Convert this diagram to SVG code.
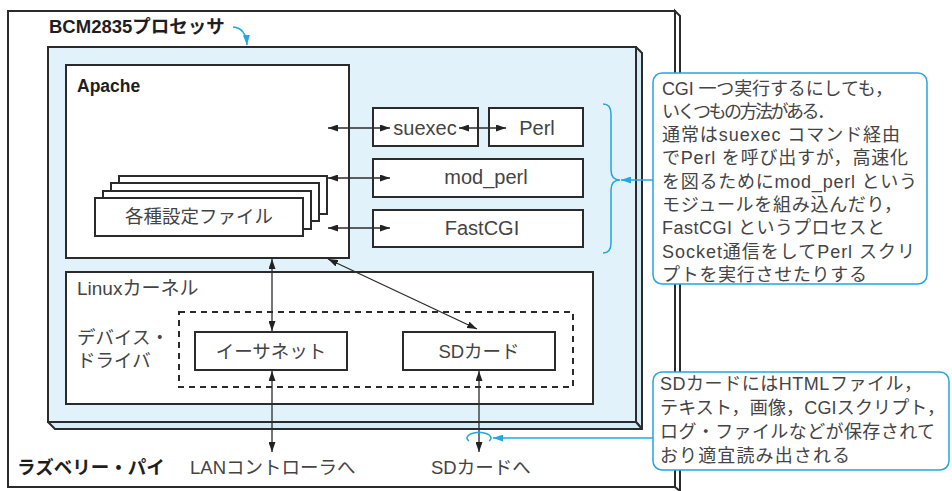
<svg xmlns="http://www.w3.org/2000/svg" width="952" height="491" viewBox="0 0 952 491">
<defs>
<style>
.box{fill:#fff;stroke:#2b2b2b;stroke-width:2}
.t{font-family:"Liberation Sans","Noto Sans CJK JP",sans-serif;fill:#444}
.jp{font-size:18.5px}
.lat{font-size:20px}
.cl{font-size:18px}
.b{font-weight:bold;fill:#1e1e1e}
.con{stroke:#2b2b2b;stroke-width:1.3;fill:none}
.blue{stroke:#22a7e0;stroke-width:1.5;fill:none}
</style>
<marker id="ah" viewBox="0 0 10 10" refX="10" refY="5" markerWidth="10" markerHeight="7" orient="auto-start-reverse" markerUnits="userSpaceOnUse" preserveAspectRatio="none"><path d="M0,0 L10,5 L0,10 z" fill="#222"/></marker>
<marker id="bh" viewBox="0 0 10 10" refX="10" refY="5" markerWidth="10" markerHeight="7" orient="auto" markerUnits="userSpaceOnUse" preserveAspectRatio="none"><path d="M0,0 L10,5 L0,10 z" fill="#22a7e0"/></marker>
</defs>
<rect width="952" height="491" fill="#fff"/>

<g id="board">
<polygon points="675,11 680,16 680,491 675,487" fill="#fff" stroke="#2b2b2b" stroke-width="2"/>
<rect x="8" y="11" width="667" height="476" fill="#fff" stroke="#2b2b2b" stroke-width="2"/>
<text class="t jp b" x="17" y="474">ラズベリー・パイ</text>
</g>

<g id="processor">
<polygon points="636,47 642,53 642,429 636,422" fill="#d3ecf7" stroke="#2b2b2b" stroke-width="2" stroke-linejoin="round"/>
<polygon points="48,422 636,422 642,429 55,429" fill="#d3ecf7" stroke="#2b2b2b" stroke-width="2" stroke-linejoin="round"/>
<rect x="48" y="47" width="588" height="375" fill="#e1f2fa" stroke="#2b2b2b" stroke-width="2"/>
<text class="t b" x="49" y="33" font-size="18.5">BCM2835プロセッサ</text>
</g>

<g id="apache">
<rect class="box" x="66" y="65" width="283" height="193"/>
<text class="t b" x="77" y="92" font-size="17.5">Apache</text>
</g>

<g id="config-files">
<rect class="box" x="119" y="176" width="208" height="38" stroke-width="1.5"/>
<rect class="box" x="111" y="183" width="208" height="38" stroke-width="1.5"/>
<rect class="box" x="103" y="191" width="208" height="38" stroke-width="1.5"/>
<rect class="box" x="95" y="198" width="208" height="38" stroke-width="1.5"/>
<text class="t jp" x="199" y="223" text-anchor="middle">各種設定ファイル</text>
</g>

<g id="suexec">
<rect class="box" x="373" y="108" width="105" height="38"/>
<text class="t lat" x="425" y="135" text-anchor="middle">suexec</text>
</g>
<g id="perl">
<rect class="box" x="489" y="108" width="94" height="38"/>
<text class="t lat" x="537" y="135" text-anchor="middle">Perl</text>
</g>
<g id="mod_perl">
<rect class="box" x="373" y="159" width="210" height="38"/>
<text class="t lat" x="486" y="184" text-anchor="middle">mod_perl</text>
</g>
<g id="fastcgi">
<rect class="box" x="373" y="210" width="210" height="37"/>
<text class="t lat" x="482" y="235" text-anchor="middle">FastCGI</text>
</g>

<g id="linux-kernel">
<rect class="box" x="66" y="272" width="527" height="132"/>
<text class="t" x="77" y="295" font-size="19">Linuxカーネル</text>
<text class="t jp" x="77" y="344">デバイス・</text>
<text class="t jp" x="77" y="367">ドライバ</text>
</g>

<g id="device-drivers">
<rect x="179" y="312" width="394" height="75" fill="none" stroke="#2b2b2b" stroke-width="2" stroke-dasharray="6 5"/>
</g>
<g id="ethernet">
<rect class="box" x="195" y="332" width="152" height="38"/>
<text class="t jp" x="271" y="358" text-anchor="middle">イーサネット</text>
</g>
<g id="sdcard">
<rect class="box" x="403" y="332" width="152" height="38"/>
<text class="t jp" x="479" y="358" text-anchor="middle">SDカード</text>
</g>

<g id="bottom-labels">
<text class="t jp" x="190" y="474">LANコントローラへ</text>
<text class="t jp" x="431" y="474">SDカードへ</text>
</g>

<g id="connectors">
<line class="con" x1="328" y1="128" x2="390" y2="128" marker-start="url(#ah)" marker-end="url(#ah)"/>
<line class="con" x1="459" y1="128" x2="506" y2="128" marker-start="url(#ah)" marker-end="url(#ah)"/>
<line class="con" x1="328" y1="178" x2="390" y2="178" marker-start="url(#ah)" marker-end="url(#ah)"/>
<line class="con" x1="328" y1="228" x2="390" y2="228" marker-start="url(#ah)" marker-end="url(#ah)"/>
<line class="con" x1="272" y1="259" x2="272" y2="331" marker-start="url(#ah)" marker-end="url(#ah)"/>
<line class="con" x1="328" y1="259" x2="477" y2="329" marker-start="url(#ah)" marker-end="url(#ah)"/>
<line class="con" x1="272" y1="371" x2="272" y2="452" marker-start="url(#ah)" marker-end="url(#ah)"/>
<line class="con" x1="479" y1="371" x2="479" y2="452" marker-start="url(#ah)" marker-end="url(#ah)"/>
<path class="blue" d="M233,27 Q246,28 247,45" marker-end="url(#bh)"/>
<path class="blue" d="M603,104 Q611,104 611,114 L611,170 Q611,180 620,180 Q611,180 611,190 L611,243 Q611,253 603,253"/>
<line class="blue" x1="653" y1="180" x2="621" y2="180" marker-end="url(#bh)"/>
<path class="blue" d="M469,441 A12,5.5 0 1 1 489,441"/>
<line class="blue" x1="653" y1="438" x2="493" y2="438" marker-end="url(#bh)"/>
</g>

<g id="note-cgi">
<rect x="653" y="73" width="274" height="211" rx="9" fill="#fff" stroke="#22a7e0" stroke-width="1.5"/>
<text class="t cl">
<tspan x="662" y="94.5" textLength="231" lengthAdjust="spacing">CGI 一つ実行するにしても，</tspan>
<tspan x="662" y="117.8" textLength="173" lengthAdjust="spacing">いくつもの方法がある．</tspan>
<tspan x="662" y="141.1" textLength="238" lengthAdjust="spacing">通常はsuexec コマンド経由</tspan>
<tspan x="662" y="164.4" textLength="246" lengthAdjust="spacing">でPerl を呼び出すが，高速化</tspan>
<tspan x="662" y="187.7" textLength="255" lengthAdjust="spacing">を図るためにmod_perl という</tspan>
<tspan x="662" y="211" textLength="240" lengthAdjust="spacing">モジュールを組み込んだり，</tspan>
<tspan x="662" y="234.3" textLength="223" lengthAdjust="spacing">FastCGI というプロセスと</tspan>
<tspan x="662" y="257.6" textLength="253" lengthAdjust="spacing">Socket通信をしてPerl スクリ</tspan>
<tspan x="662" y="280.9" textLength="205" lengthAdjust="spacing">プトを実行させたりする</tspan>
</text>
</g>

<g id="note-sd">
<rect x="653" y="372" width="296" height="98" rx="9" fill="#fff" stroke="#22a7e0" stroke-width="1.5"/>
<text class="t cl">
<tspan x="660" y="390" textLength="262" lengthAdjust="spacing">SDカードにはHTMLファイル，</tspan>
<tspan x="660" y="414" textLength="285" lengthAdjust="spacing">テキスト，画像，CGIスクリプト，</tspan>
<tspan x="660" y="438" textLength="275" lengthAdjust="spacing">ログ・ファイルなどが保存されて</tspan>
<tspan x="660" y="462" textLength="190" lengthAdjust="spacing">おり適宜読み出される</tspan>
</text>
</g>
</svg>
